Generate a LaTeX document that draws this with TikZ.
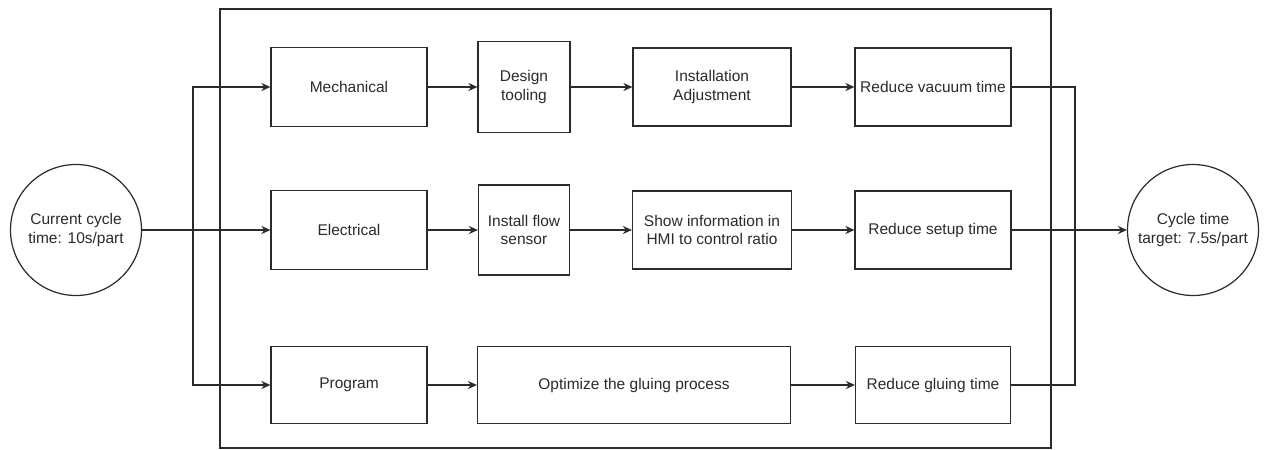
\documentclass[tikz,border=0pt]{standalone}
\usepackage{fontspec}
\setmainfont{Liberation Sans}
\usetikzlibrary{arrows.meta}
\definecolor{ink}{HTML}{2B2B2B}
\begin{document}
\begin{tikzpicture}[x=1pt,y=-1pt,
  every node/.style={font=\fontsize{15.5}{18.5}\selectfont, text=ink, align=center, inner sep=0pt},
  box/.style={draw=ink, line width=1.2pt, minimum height=#1},
  box/.default=78,
  endpoint/.style={draw=ink, line width=1.2pt, circle, minimum size=131},
  link/.style={draw=ink, line width=1.1pt},
  arr/.style={link, -{Stealth[length=9pt,width=8pt]}}]
  \useasboundingbox[fill=white] (0,0) rectangle (1270,450);

  % enclosing frame around the three improvement streams
  \draw[ink, line width=1.2pt] (220,9) rectangle (1051,448);

  % start and goal
  \node[endpoint] (c1) at (76,230) {Current cycle\\time: 10s/part};
  \node[endpoint] (c2) at (1193,230) {Cycle time\\target: 7.5s/part};

  % mechanical stream
  \node[box=79, minimum width=156] (mech) at (349,87) {Mechanical};
  \node[box=91, minimum width=92]  (tool) at (524,87) {Design\\tooling};
  \node[box, minimum width=158]    (inst) at (712,87) {Installation\\Adjustment};
  \node[box, minimum width=156]    (vac)  at (933,87) {Reduce vacuum time};

  % electrical stream
  \node[box=79, minimum width=156] (elec) at (349,230) {Electrical};
  \node[box=90, minimum width=91]  (flow) at (524,230) {Install flow\\sensor};
  \node[box, minimum width=159]    (show) at (712,230) {Show information in\\HMI to control ratio};
  \node[box, minimum width=156]    (setup) at (933,230) {Reduce setup time};

  % program stream
  \node[box=77, minimum width=156] (prog) at (349,385) {Program};
  \node[box=77, minimum width=313] (opt)  at (634,385) {Optimize the gluing process};
  \node[box=77, minimum width=155] (glue) at (933,385) {Reduce gluing time};

  % branching and merging points
  \coordinate (jl) at (193,230);
  \coordinate (jr) at (1075,230);

  % split from the current cycle time
  \draw[arr] (c1.east) -- (elec.west);
  \draw[arr] (jl) |- (mech.west);
  \draw[arr] (jl) |- (prog.west);

  % steps within each stream
  \draw[arr] (mech) -- (tool);
  \draw[arr] (tool) -- (inst);
  \draw[arr] (inst) -- (vac);
  \draw[arr] (elec) -- (flow);
  \draw[arr] (flow) -- (show);
  \draw[arr] (show) -- (setup);
  \draw[arr] (prog) -- (opt);
  \draw[arr] (opt) -- (glue);

  % merge into the target cycle time
  \draw[link] (vac.east) -| (jr);
  \draw[link] (glue.east) -| (jr);
  \draw[arr] (setup.east) -- (c2.west);
\end{tikzpicture}
\end{document}
